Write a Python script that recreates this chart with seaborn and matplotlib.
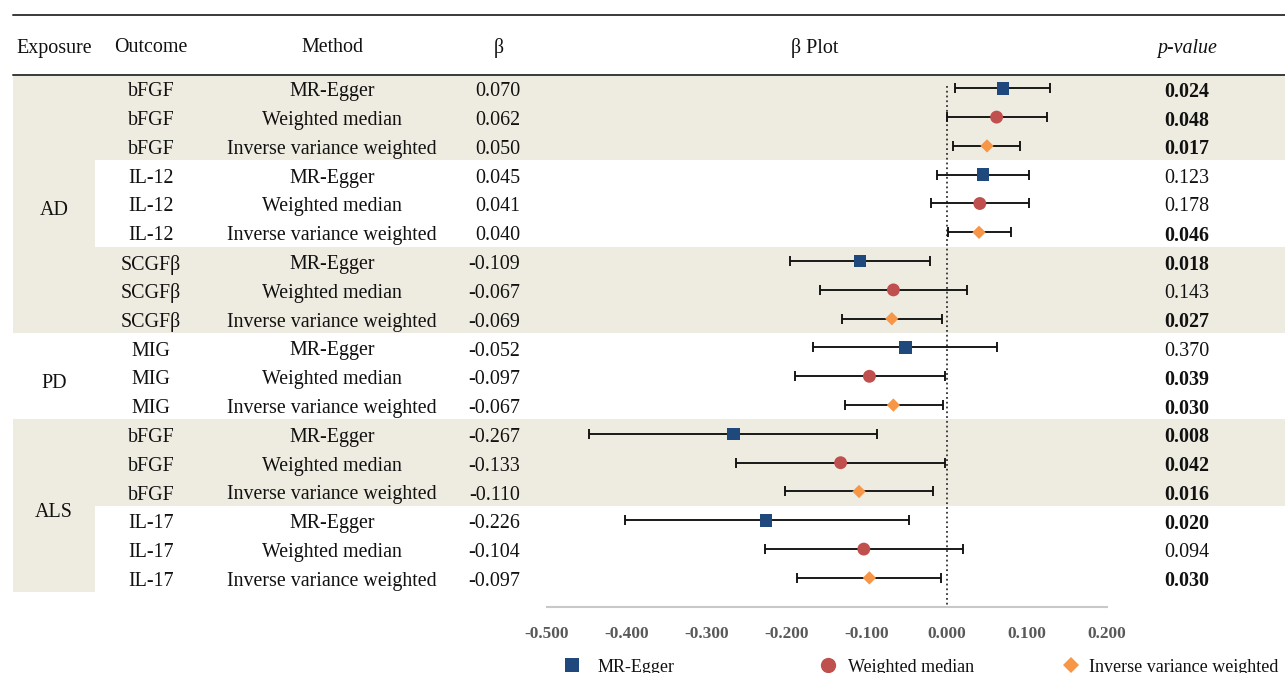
import numpy as np
import pandas as pd
import matplotlib
matplotlib.use("Agg")
import matplotlib.pyplot as plt
import seaborn as sns
from matplotlib.patches import Rectangle
from matplotlib.lines import Line2D

# ---------------- data ----------------
exposures = ["AD"] * 9 + ["PD"] * 3 + ["ALS"] * 6
outcomes = ["bFGF"] * 3 + ["IL-12"] * 3 + ["SCGFβ"] * 3 + ["MIG"] * 3 + ["bFGF"] * 3 + ["IL-17"] * 3
method_names = ["MR-Egger", "Weighted median", "Inverse variance weighted"]
methods = method_names * 6
beta = [0.070, 0.062, 0.050, 0.045, 0.041, 0.040, -0.109, -0.067, -0.069,
        -0.052, -0.097, -0.067, -0.267, -0.133, -0.110, -0.226, -0.104, -0.097]
ci_low = [0.010, 0.000, 0.007, -0.012, -0.020, 0.001, -0.196, -0.159, -0.131,
          -0.167, -0.190, -0.128, -0.447, -0.264, -0.202, -0.403, -0.228, -0.187]
ci_high = [0.129, 0.125, 0.091, 0.102, 0.102, 0.080, -0.021, 0.025, -0.006,
           0.063, -0.003, -0.005, -0.087, -0.002, -0.018, -0.048, 0.020, -0.008]
p_values = ["0.024", "0.048", "0.017", "0.123", "0.178", "0.046", "0.018", "0.143", "0.027",
            "0.370", "0.039", "0.030", "0.008", "0.042", "0.016", "0.020", "0.094", "0.030"]
x_ticks = [-0.5, -0.4, -0.3, -0.2, -0.1, 0.0, 0.1, 0.2]

headers = ["Exposure", "Outcome", "Method", "β", "β Plot", "p-value"]

palette = {"MR-Egger": "#1F497D", "Weighted median": "#C0504D", "Inverse variance weighted": "#F79646"}
markers = {"MR-Egger": "s", "Weighted median": "o", "Inverse variance weighted": "D"}
sizes = {"MR-Egger": 82, "Weighted median": 86, "Inverse variance weighted": 46}

df = pd.DataFrame({"exposure": exposures, "outcome": outcomes, "method": methods,
                   "beta": beta, "lo": ci_low, "hi": ci_high, "p": p_values})
df["row"] = np.arange(len(df))

# ---------------- style ----------------
sns.set_theme(style="white")
plt.rcParams["font.family"] = ["Liberation Serif", "DejaVu Serif"]

W, H = 1285, 673
fig = plt.figure(figsize=(W / 100, H / 100), dpi=100)

# layout (pixels)
ZERO_PX, UNIT_PX = 947.0, 800.0
ROW0_PX, ROW_PX = 88.3, 28.8
AX_BOTTOM_PX = 607.0
LEFT_PX, RIGHT_PX = 13.0, 1285.0
TEXT_SHIFT = 3.5 / ROW_PX   # table text sits slightly lower than markers

def px_x(px):
    return (px - ZERO_PX) / UNIT_PX

def px_y(py):
    return (py - ROW0_PX) / ROW_PX

ax = fig.add_axes([0, 1 - AX_BOTTOM_PX / H, 1, AX_BOTTOM_PX / H])
ax.patch.set_alpha(0)

BAND = "#EEECE1"
TXT = "#111111"
FS = 14.4

# shading bands (outcome blocks alternate; exposure column alternates)
blocks = df.groupby((df["outcome"] != df["outcome"].shift()).cumsum())
for k, (_, g) in enumerate(blocks):
    if k % 2 == 0:
        ax.add_patch(Rectangle((px_x(LEFT_PX), g["row"].min() - 0.5),
                               px_x(RIGHT_PX) - px_x(LEFT_PX), len(g),
                               facecolor=BAND, edgecolor="none", zorder=0, clip_on=False))
exp_blocks = df.groupby((df["exposure"] != df["exposure"].shift()).cumsum())
for k, (_, g) in enumerate(exp_blocks):
    if k % 2 == 0:
        ax.add_patch(Rectangle((px_x(LEFT_PX), g["row"].min() - 0.5),
                               px_x(95) - px_x(LEFT_PX), len(g),
                               facecolor=BAND, edgecolor="none", zorder=0, clip_on=False))
    ax.text(px_x(54), g["row"].mean() + 2 * TEXT_SHIFT, g["exposure"].iloc[0], ha="center",
            va="center", fontsize=FS, color=TXT)

# header lines
for yl in (15, 75):
    ax.plot([px_x(LEFT_PX), px_x(RIGHT_PX)], [px_y(yl), px_y(yl)], color="#3a3a3a",
            lw=1.4, clip_on=False, zorder=2)

# headers
hy = px_y(48)
ax.text(px_x(54), hy, headers[0], ha="center", va="center", fontsize=FS, color=TXT)
ax.text(px_x(151), hy, headers[1], ha="center", va="center", fontsize=FS, color=TXT)
ax.text(px_x(332), hy, headers[2], ha="center", va="center", fontsize=FS, color=TXT)
ax.text(px_x(499), hy, headers[3], ha="center", va="center", fontsize=FS, color=TXT)
ax.text(px_x(815), hy, headers[4], ha="center", va="center", fontsize=FS, color=TXT)
ax.text(px_x(1187), hy, headers[5], ha="center", va="center", fontsize=FS, color=TXT,
        style="italic")

# table body
for _, r in df.iterrows():
    y = r["row"] + TEXT_SHIFT
    ax.text(px_x(151), y, r["outcome"], ha="center", va="center", fontsize=FS, color=TXT)
    ax.text(px_x(332), y, r["method"], ha="center", va="center", fontsize=FS, color=TXT)
    ax.text(px_x(520), y, f"{r['beta']:.3f}", ha="right", va="center", fontsize=FS, color=TXT)
    sig = float(r["p"]) < 0.05
    ax.text(px_x(1187), y, r["p"], ha="center", va="center", fontsize=FS, color=TXT,
            fontweight="bold" if sig else "normal")

# zero reference line
ax.plot([0, 0], [px_y(86), px_y(AX_BOTTOM_PX)], color="#333333", lw=1.3, ls=":", zorder=2,
        clip_on=False)

# error bars + points
ax.errorbar(df["beta"], df["row"], xerr=[df["beta"] - df["lo"], df["hi"] - df["beta"]],
            fmt="none", ecolor="#111111", elinewidth=1.35, capsize=3.6, capthick=1.35, zorder=3)
sns.scatterplot(data=df, x="beta", y="row", hue="method", style="method", size="method",
                palette=palette, markers=markers, sizes=sizes, linewidth=0, legend=False,
                ax=ax, zorder=4)

ax.set_xlim(px_x(0), px_x(W))
ax.set_ylim(px_y(AX_BOTTOM_PX), px_y(0))
ax.set_xlabel("")
ax.set_ylabel("")
ax.set_yticks([])
ax.set_xticks(x_ticks)
ax.set_xticklabels([f"{t:.3f}" for t in x_ticks])
ax.tick_params(axis="x", length=0, pad=14, labelsize=12.4, labelcolor="#595959")
for lbl in ax.get_xticklabels():
    lbl.set_fontweight("bold")
for s in ("left", "top", "right"):
    ax.spines[s].set_visible(False)
ax.spines["bottom"].set_bounds(-0.5, 0.2)
ax.spines["bottom"].set_color("#c8c8c8")
ax.spines["bottom"].set_linewidth(1.5)

# legend
LFS = 13
leg_pos = {"MR-Egger": (572, 598, 10.5), "Weighted median": (828, 848, 11.0),
           "Inverse variance weighted": (1071, 1089, 8.5)}
fs_px = LFS * 100 / 72
for m in method_names:
    hx, tx, ms = leg_pos[m]
    left = hx - fs_px / 2
    pad = (tx - left - fs_px) / fs_px
    h = Line2D([], [], linestyle="none", marker=markers[m], color=palette[m],
               markersize=ms, markeredgewidth=0)
    leg = fig.legend([h], [m], loc="center left", bbox_to_anchor=(left / W, (H - 667) / H),
                     frameon=False, handlelength=1.0, handletextpad=pad, borderpad=0,
                     borderaxespad=0, fontsize=LFS)
    for t in leg.get_texts():
        t.set_color(TXT)

fig.savefig("out.png", dpi=100)
